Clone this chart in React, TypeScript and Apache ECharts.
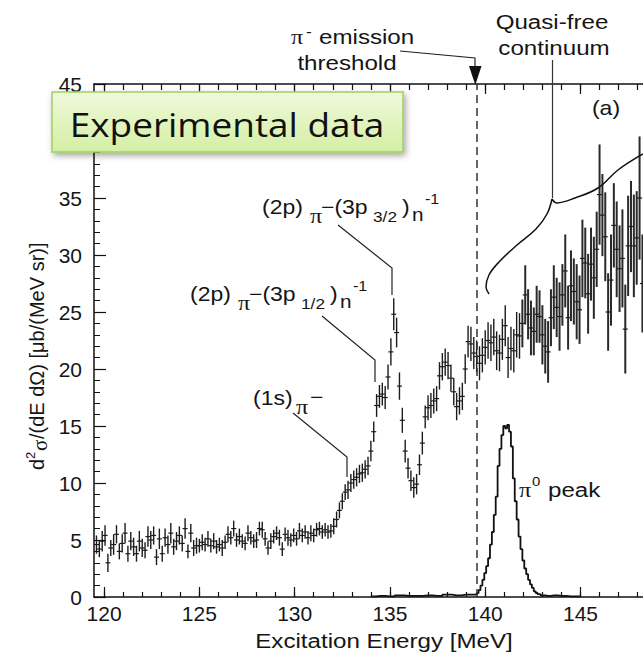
import React, { useEffect, useRef } from "react";
import * as echarts from "echarts";

// ---- axis ranges & ticks ----
const X_MIN = 119.47;
const X_MAX = 148.28;
const xMajorTicks = [120, 125, 130, 135, 140, 145];
const xMinorTicks = [120, 121, 122, 123, 124, 125, 126, 127, 128, 129, 130, 131, 132, 133, 134, 135, 136, 137, 138, 139, 140, 141, 142, 143, 144, 145, 146, 147, 148];
const Y_MIN = 0;
const Y_MAX = 45;
const Y_STEP = 5;
const THRESHOLD = 139.55;

// ---- experimental data (bins of 0.15 MeV starting at 119.6 MeV) ----
const E_START = 119.6;
const E_STEP = 0.15;
const crossSection = [
  4.6, 4.2, 4.9, 5.4, 3.0, 4.3, 4.6, 5.5, 4.0, 4.7,
  5.6, 3.8, 4.9, 4.4, 3.8, 4.9, 4.3, 4.1, 5.3, 5.0,
  5.4, 3.5, 5.1, 3.8, 5.2, 4.6, 5.6, 4.4, 4.9, 5.4,
  4.7, 6.0, 4.0, 5.6, 4.3, 4.5, 4.5, 4.8, 4.6, 5.1,
  4.5, 4.9, 4.4, 4.6, 4.3, 4.8, 5.5, 5.2, 6.0, 5.0,
  5.3, 4.9, 4.7, 5.6, 5.2, 4.9, 5.0, 6.0, 5.9, 5.1,
  4.3, 4.9, 5.3, 5.6, 5.2, 4.2, 5.5, 5.2, 5.0, 5.4,
  5.1, 5.8, 5.4, 5.7, 5.2, 5.6, 5.4, 5.9, 6.0, 5.7,
  5.9, 5.7, 5.8, 6.2, 6.8, 7.6, 8.4, 9.2, 9.4, 10.0,
  10.3, 10.5, 10.8, 10.9, 11.2, 11.5, 12.8, 14.5, 16.8, 17.6,
  17.8, 17.5, 19.3, 21.5, 24.8, 23.2, 18.5, 15.5, 12.8, 11.3,
  10.2, 9.6, 9.9, 11.6, 13.5, 15.8, 16.6, 16.8, 17.2, 17.4,
  19.4, 20.2, 20.6, 20.3, 19.2, 18.0, 16.7, 17.2, 17.6, 20.0,
  22.4, 22.2, 21.4, 21.1, 20.5, 21.2, 21.9, 22.5, 22.3, 22.8,
  21.6, 21.4, 22.6, 23.8, 21.0, 21.8, 21.6, 23.0, 22.9, 24.0,
  26.5, 24.8, 23.6, 23.3, 24.8, 24.6, 23.0, 22.0, 21.5, 24.5,
  26.3, 25.4, 24.6, 26.5, 28.6, 24.5, 27.3, 26.8, 25.9, 25.2,
  29.7, 29.3, 26.6, 29.2, 28.0, 30.5, 35.3, 33.5, 31.6, 25.0,
  27.8, 32.6, 30.5, 28.8, 29.7, 23.5, 30.8, 32.5, 30.8, 31.5,
  35.0, 27.5,
];
const errors = [
  0.8, 0.7, 0.9, 0.9, 0.8, 0.7, 0.9, 0.8, 0.7, 0.8,
  0.9, 0.7, 0.8, 0.8, 0.7, 0.9, 0.8, 0.7, 0.9, 0.8,
  0.8, 0.7, 0.9, 0.7, 0.8, 0.8, 0.9, 0.7, 0.8, 0.8,
  0.7, 0.9, 0.6, 0.8, 0.7, 0.7, 0.6, 0.7, 0.6, 0.7,
  0.6, 0.7, 0.6, 0.6, 0.7, 0.6, 0.7, 0.6, 0.7, 0.6,
  0.7, 0.6, 0.6, 0.7, 0.6, 0.6, 0.7, 0.6, 0.7, 0.6,
  0.6, 0.7, 0.6, 0.6, 0.7, 0.6, 0.6, 0.7, 0.6, 0.6,
  0.6, 0.7, 0.6, 0.6, 0.6, 0.7, 0.6, 0.6, 0.6, 0.6,
  0.6, 0.6, 0.6, 0.7, 0.7, 0.7, 0.7, 0.7, 0.8, 0.8,
  0.8, 0.8, 0.8, 0.8, 0.8, 0.8, 0.9, 0.9, 1.0, 1.0,
  1.0, 1.0, 1.1, 1.2, 1.4, 1.3, 1.2, 1.1, 1.0, 0.9,
  0.9, 0.9, 0.9, 0.9, 1.0, 1.0, 1.1, 1.1, 1.1, 1.1,
  1.2, 1.2, 1.2, 1.2, 1.2, 1.2, 1.2, 1.2, 1.2, 1.3,
  1.4, 1.5, 1.4, 1.4, 1.5, 1.5, 1.5, 1.6, 1.6, 1.6,
  1.7, 1.6, 1.8, 1.8, 1.8, 1.9, 1.9, 2.0, 2.0, 2.1,
  2.6, 2.2, 2.4, 2.1, 2.5, 2.3, 2.6, 2.4, 2.7, 2.5,
  2.8, 2.6, 3.0, 2.7, 3.2, 2.8, 3.1, 2.9, 3.3, 3.0,
  3.4, 3.1, 3.5, 3.2, 3.6, 3.3, 4.4, 3.6, 3.9, 3.4,
  4.0, 3.7, 4.2, 3.8, 4.3, 3.9, 4.4, 4.0, 4.5, 4.1,
  5.4, 4.3,
];
const energies = crossSection.map((_, i) => +(E_START + i * E_STEP).toFixed(2));

// ---- pi0 peak histogram ----
const pi0Energy = [
  134.0, 134.5, 135.0, 135.5, 136.0, 136.5, 137.0, 137.5, 138.0, 138.5,
  139.0, 139.3, 139.5, 139.6, 139.7, 139.8, 139.9, 140.0, 140.1, 140.2,
  140.3, 140.4, 140.5, 140.6, 140.7, 140.8, 140.9, 141.0, 141.1, 141.2,
  141.3, 141.4, 141.5, 141.6, 141.7, 141.8, 141.9, 142.0, 142.1, 142.2,
  142.3, 142.4, 142.5, 142.6, 142.7, 142.8, 143.0, 143.3, 143.6, 144.0,
  144.5, 145.0,
];
const pi0Counts = [
  0.05, 0.1, 0.05, 0.15, 0.1, 0.1, 0.15, 0.1, 0.2, 0.15,
  0.2, 0.2, 0.2, 0.35, 0.6, 1.0, 1.5, 2.1, 2.7, 3.4,
  4.6, 5.7, 7.2, 8.8, 11.5, 13.0, 14.2, 15.0, 14.8, 15.1,
  14.5, 13.2, 10.4, 8.4, 6.8, 5.3, 4.2, 3.2, 2.5, 2.0,
  1.5, 1.1, 0.8, 0.5, 0.35, 0.25, 0.15, 0.1, 0.15, 0.1,
  0.05, 0.05,
];

const SANS = "Liberation Sans";
const SERIF = "Liberation Serif";
const INK = "#151515";
const SX = 1.15;

type Piece = { t: string; dx: number; dy: number; size: number; serif?: boolean };

function txt(x: number, y: number, t: string, size: number, opts: any = {}) {
  return {
    type: "text",
    x,
    y,
    scaleX: opts.scaleX ?? SX,
    z: 50,
    style: {
      text: t,
      fontSize: size,
      fontFamily: opts.serif ? SERIF : SANS,
      fill: INK,
      align: opts.align ?? "left",
      verticalAlign: "middle",
      textAlign: opts.align ?? "left",
      textVerticalAlign: "middle",
    },
  };
}

function pieces(x0: number, y0: number, list: Piece[]) {
  return list.map((p) => txt(x0 + p.dx, y0 + p.dy, p.t, p.size, { serif: p.serif }));
}

function levelLabel(x0: number, y0: number, sub: string) {
  return pieces(x0, y0, [
    { t: "(2p)", dx: 0, dy: 0, size: 20 },
    { t: "π", dx: 48, dy: 9, size: 21, serif: true },
    { t: "−(3p", dx: 59, dy: 0, size: 20 },
    { t: sub, dx: 111, dy: 9, size: 15 },
    { t: ")", dx: 140, dy: 0, size: 20 },
    { t: "n", dx: 150, dy: 8, size: 18 },
    { t: "-1", dx: 163, dy: -8, size: 14 },
  ]);
}

function leader(points: number[][]) {
  return {
    type: "polyline",
    z: 40,
    shape: { points },
    style: { stroke: "#222", lineWidth: 1.2, fill: "none" },
  };
}

export default function App() {
  const ref = useRef<HTMLDivElement>(null);

  useEffect(() => {
    if (!ref.current) return;
    const chart = echarts.init(ref.current, undefined, { renderer: "svg" });

    const axisLineStyle = { color: "#111", width: 1.5 };
    const tickStyle = { color: "#111", width: 1.2 };

    const yLabel = {
      type: "group",
      x: 37,
      y: 470,
      rotation: Math.PI / 2,
      z: 50,
      children: [
        { t: "d", dx: 0, dy: 0, size: 20, serif: false },
        { t: "2", dx: 11, dy: -7, size: 13, serif: false },
        { t: "σ", dx: 19, dy: 3, size: 21, serif: true },
        { t: "/(dE dΩ) [μb/(MeV sr)]", dx: 31, dy: 0, size: 20, serif: false },
      ].map((p) => ({
        type: "text",
        x: p.dx,
        y: p.dy,
        style: {
          text: p.t,
          fontSize: p.size,
          fontFamily: p.serif ? SERIF : SANS,
          fill: INK,
          align: "left",
          verticalAlign: "middle",
          textAlign: "left",
          textVerticalAlign: "middle",
        },
      })),
    };

    const graphic: any[] = [
      // green box
      {
        type: "rect",
        z: 60,
        shape: { x: 52, y: 92, width: 351, height: 60 },
        style: {
          fill: new echarts.graphic.LinearGradient(0, 0, 0, 1, [
            { offset: 0, color: "#eff9dc" },
            { offset: 1, color: "#d4efa4" },
          ]),
          stroke: "#9fd063",
          lineWidth: 1.5,
          shadowBlur: 6,
          shadowColor: "rgba(0,0,0,0.35)",
          shadowOffsetX: 2,
          shadowOffsetY: 3,
        },
      },
      {
        type: "text",
        z: 61,
        x: 227,
        y: 124,
        scaleX: 1.12,
        style: {
          text: "Experimental data",
          fontSize: 33,
          fontFamily: "Open Sans",
          fill: "#111",
          align: "center",
          verticalAlign: "middle",
          textAlign: "center",
          textVerticalAlign: "middle",
        },
      },
      // threshold annotation
      txt(291, 37, "π", 21, { serif: true }),
      txt(306, 31, "-", 15),
      txt(319, 37, "emission", 21),
      txt(347, 63, "threshold", 21, { align: "center" }),
      leader([[400, 51], [475, 58], [475, 68]]),
      {
        type: "polygon",
        z: 40,
        shape: { points: [[469, 66], [481.5, 66], [475.3, 85]] },
        style: { fill: "#111" },
      },
      // quasi-free continuum
      txt(552, 22, "Quasi-free", 21, { align: "center" }),
      txt(554, 48, "continuum", 21, { align: "center" }),
      {
        type: "line",
        z: 40,
        shape: { x1: 552.5, y1: 60, x2: 552.5, y2: 198 },
        style: { stroke: "#333", lineWidth: 1.2 },
      },
      {
        type: "polyline",
        z: 40,
        shape: {
          points: [[489, 294], [486, 287], [489, 275], [499, 262], [517, 245], [536, 229], [547, 214], [552, 199]],
          smooth: 0.4,
        },
        style: { stroke: "#111", lineWidth: 1.5, fill: "none" },
      },
      {
        type: "polyline",
        z: 40,
        shape: {
          points: [[552, 199], [557, 203], [575, 198], [598, 188], [618, 170], [643, 154]],
          smooth: 0.4,
        },
        style: { stroke: "#111", lineWidth: 1.5, fill: "none" },
      },
      txt(606, 108, "(a)", 20, { align: "center" }),
      // peak labels
      ...levelLabel(262, 207, "3/2"),
      leader([[338, 225], [392, 268], [392, 295]]),
      ...levelLabel(190, 294, "1/2"),
      leader([[322, 316], [375, 360], [375, 382]]),
      ...pieces(253, 398, [
        { t: "(1s)", dx: 0, dy: 0, size: 20 },
        { t: "π", dx: 43, dy: 9, size: 21, serif: true },
        { t: "−", dx: 57, dy: -1, size: 20 },
      ]),
      leader([[293, 413], [347, 457], [347, 477]]),
      txt(519, 490, "π", 21, { serif: true }),
      txt(532, 481, "0", 13),
      txt(548, 490, "peak", 21),
      // axis names
      txt(384, 641, "Excitation Energy [MeV]", 21, { align: "center" }),
      yLabel,
    ];

    const option: any = {
      animation: false,
      backgroundColor: "#ffffff",
      grid: { left: 94, right: 0, top: 84, bottom: 61, containLabel: false },
      xAxis: [
        {
          type: "value",
          position: "bottom",
          min: X_MIN,
          max: X_MAX,
          axisLine: { show: true, lineStyle: axisLineStyle },
          axisTick: { show: true, inside: true, length: 10, customValues: xMajorTicks, lineStyle: tickStyle },
          axisLabel: { show: true, customValues: xMajorTicks, fontSize: 21, fontFamily: SANS, color: INK, margin: 6 },
          splitLine: { show: false },
        },
        {
          type: "value",
          position: "bottom",
          min: X_MIN,
          max: X_MAX,
          axisLine: { show: false },
          axisTick: { show: true, inside: true, length: 5, customValues: xMinorTicks, lineStyle: tickStyle },
          axisLabel: { show: false },
          splitLine: { show: false },
        },
        {
          type: "value",
          position: "top",
          min: X_MIN,
          max: X_MAX,
          axisLine: { show: true, lineStyle: axisLineStyle },
          axisTick: { show: true, inside: true, length: 6, customValues: xMinorTicks, lineStyle: tickStyle },
          axisLabel: { show: false },
          splitLine: { show: false },
        },
        {
          type: "value",
          position: "top",
          min: X_MIN,
          max: X_MAX,
          axisLine: { show: false },
          axisTick: { show: true, inside: true, length: 10, customValues: xMajorTicks, lineStyle: tickStyle },
          axisLabel: { show: false },
          splitLine: { show: false },
        },
      ],
      yAxis: {
        type: "value",
        min: Y_MIN,
        max: Y_MAX,
        interval: Y_STEP,
        axisLine: { show: true, lineStyle: axisLineStyle },
        axisTick: { show: true, inside: true, length: 12, lineStyle: tickStyle },
        minorTick: { show: true, splitNumber: 5, length: 6, lineStyle: { color: "#111", width: 1 } },
        axisLabel: { fontSize: 21, fontFamily: SANS, color: INK, margin: 12 },
        splitLine: { show: false },
        minorSplitLine: { show: false },
      },
      series: [
        {
          type: "custom",
          name: "data",
          xAxisIndex: 0,
          yAxisIndex: 0,
          clip: true,
          silent: true,
          z: 3,
          data: energies.map((e, i) => [e, crossSection[i], errors[i]]),
          renderItem: (params: any, api: any) => {
            const x = api.value(0);
            const y = api.value(1);
            const err = api.value(2);
            const c = api.coord([x, y]);
            const hi = api.coord([x, y + err]);
            const lo = api.coord([x, y - err]);
            const w = err > 2 ? 2.0 : 1.4;
            return {
              type: "group",
              children: [
                {
                  type: "line",
                  shape: { x1: c[0], y1: hi[1], x2: c[0], y2: lo[1] },
                  style: { stroke: err > 2 ? "#2a2a2a" : "#1c1c1c", lineWidth: w },
                },
                {
                  type: "line",
                  shape: { x1: c[0] - 2.5, y1: c[1], x2: c[0] + 2.5, y2: c[1] },
                  style: { stroke: "#1c1c1c", lineWidth: 1.2 },
                },
              ],
            };
          },
        },
        {
          type: "line",
          name: "pi0",
          xAxisIndex: 0,
          yAxisIndex: 0,
          step: "middle",
          symbol: "none",
          silent: true,
          z: 4,
          data: pi0Energy.map((e, i) => [e, pi0Counts[i]]),
          lineStyle: { color: "#111", width: 1.8 },
          markLine: {
            silent: true,
            symbol: ["none", "none"],
            label: { show: false },
            lineStyle: { type: [8, 5], color: "#333", width: 1.5 },
            data: [{ xAxis: THRESHOLD }],
          },
        },
      ],
      graphic,
    };

    chart.setOption(option);
    return () => chart.dispose();
  }, []);

  return (
    <div
      ref={ref}
      style={{ position: "fixed", left: 0, top: 0, width: 643, height: 658, background: "#fff" }}
    />
  );
}
